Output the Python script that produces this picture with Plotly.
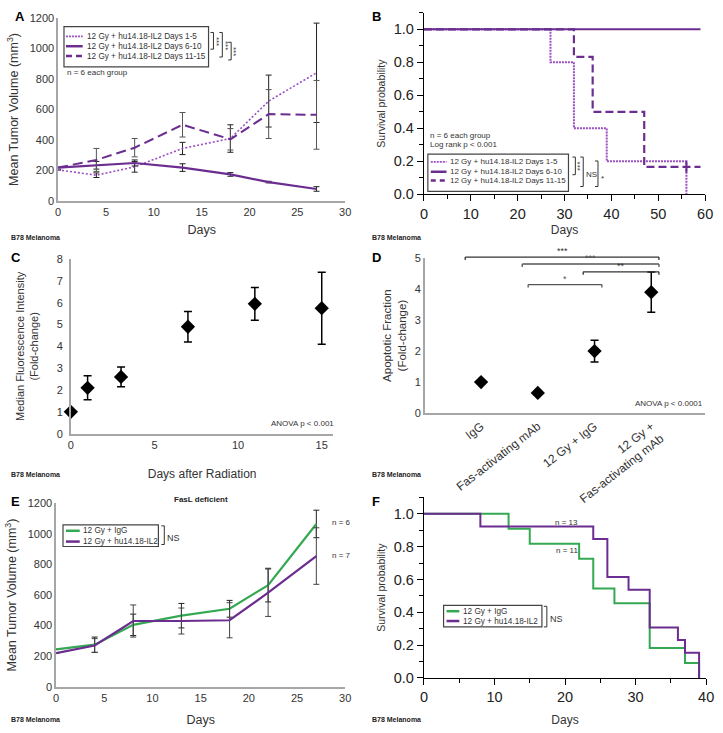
import plotly.graph_objects as go

W, H = 723, 733
def px(x): return x / W
def py(y): return 1 - y / H

# ---------------- data ----------------
days_A = [0, 4, 8, 13, 18, 22, 27]
A_d15 = [205, 170, 225, 345, 410, 655, 840]
A_d15_err = [0, 15, 35, 40, 90, 170, 325]
A_d610 = [220, 235, 250, 220, 175, 125, 80]
A_d610_err = [0, 25, 20, 25, 12, 5, 15]
A_d1115 = [220, 270, 350, 500, 405, 570, 565]
A_d1115_err = [0, 75, 60, 80, 70, 160, 225]
A_names = ["12 Gy + hu14.18-IL2 Days 1-5", "12 Gy + hu14.18-IL2 Days 6-10", "12 Gy + hu14.18-IL2 Days 11-15"]

B_d15_t = [0, 27, 32, 39, 56]
B_d15_s = [1.0, 0.8, 0.4, 0.2, 0.0]
B_d610_t = [0, 59]
B_d610_s = [1.0, 1.0]
B_d1115_t = [0, 32, 36, 47, 59]
B_d1115_s = [1.0, 0.833, 0.5, 0.167, 0.167]
B_cens_t = [56]
B_cens_s = [0.167]

C_days = [0, 1, 3, 7, 11, 15]
C_mfi = [1.0, 2.1, 2.6, 4.9, 5.95, 5.75]
C_err = [0, 0.55, 0.45, 0.7, 0.75, 1.65]

D_cats = ["IgG", "Fas-activating mAb", "12 Gy + IgG", "12 Gy +<br>Fas-activating mAb"]
D_vals = [1.0, 0.65, 2.0, 3.9]
D_err = [0.0, 0.06, 0.35, 0.65]

E_days = [0, 4, 8, 13, 18, 22, 27]
E_igg = [245, 275, 405, 465, 510, 665, 1065]
E_igg_err = [0, 50, 70, 80, 55, 110, 90]
E_il2 = [220, 270, 430, 430, 435, 615, 855]
E_il2_err = [0, 45, 105, 85, 115, 155, 185]

F_igg_t = [0, 12, 15, 22, 24, 27, 32, 37, 39]
F_igg_s = [1.0, 0.909, 0.818, 0.727, 0.545, 0.455, 0.182, 0.091, 0.0]
F_il2_t = [0, 8, 24, 26, 29, 32, 36, 37, 39]
F_il2_s = [1.0, 0.923, 0.846, 0.615, 0.538, 0.308, 0.231, 0.154, 0.0]

PUR = "#6b2d8f"
PUR_L = "#9a4fc2"
GRN = "#34a852"
GREY_AX = "#a6a6a6"
FONT = "Liberation Sans, Arial, sans-serif"

fig = go.Figure()

def eb(arr, color="#222"):
    return dict(type="data", array=arr, visible=True, color=color, thickness=1, width=3)

# ---- A ----
fig.add_trace(go.Scatter(x=days_A, y=A_d15, mode="lines", line=dict(color=PUR_L, width=1.6, dash="2px,2px"),
                         error_y=eb(A_d15_err), xaxis="x", yaxis="y", showlegend=False))
fig.add_trace(go.Scatter(x=days_A, y=A_d610, mode="lines", line=dict(color=PUR, width=2.2),
                         error_y=eb(A_d610_err), xaxis="x", yaxis="y", showlegend=False))
fig.add_trace(go.Scatter(x=days_A, y=A_d1115, mode="lines", line=dict(color=PUR, width=2, dash="10px,5px"),
                         error_y=eb(A_d1115_err, "#555"), xaxis="x", yaxis="y", showlegend=False))

# ---- B ----
fig.add_trace(go.Scatter(x=B_d15_t, y=B_d15_s, mode="lines", line=dict(color=PUR_L, width=2, dash="2px,1px", shape="hv"),
                         xaxis="x2", yaxis="y2", showlegend=False))
fig.add_trace(go.Scatter(x=B_d610_t, y=B_d610_s, mode="lines", line=dict(color=PUR, width=2, shape="hv"),
                         xaxis="x2", yaxis="y2", showlegend=False))
fig.add_trace(go.Scatter(x=B_d1115_t, y=B_d1115_s, mode="lines", line=dict(color=PUR, width=2.2, dash="8px,4px", shape="hv"),
                         xaxis="x2", yaxis="y2", showlegend=False))
fig.add_trace(go.Scatter(x=B_cens_t, y=B_cens_s, mode="markers",
                         marker=dict(symbol="line-ns", size=8, line=dict(color=PUR, width=2)),
                         xaxis="x2", yaxis="y2", showlegend=False))

# ---- C ----
fig.add_trace(go.Scatter(x=C_days, y=C_mfi, mode="markers", marker=dict(symbol="diamond", size=11, color="black"),
                         error_y=dict(type="data", array=C_err, visible=True, color="black", thickness=1.5, width=4),
                         cliponaxis=False, xaxis="x3", yaxis="y3", showlegend=False))

# ---- D ----
fig.add_trace(go.Scatter(x=list(range(len(D_cats))), y=D_vals, mode="markers",
                         marker=dict(symbol="diamond", size=11, color="black"),
                         error_y=dict(type="data", array=D_err, visible=True, color="black", thickness=1.5, width=4),
                         cliponaxis=False, xaxis="x4", yaxis="y4", showlegend=False))

# ---- E ----
fig.add_trace(go.Scatter(x=E_days, y=E_igg, mode="lines", line=dict(color=GRN, width=2.2),
                         error_y=eb(E_igg_err), xaxis="x5", yaxis="y5", showlegend=False))
fig.add_trace(go.Scatter(x=E_days, y=E_il2, mode="lines", line=dict(color=PUR, width=2.2),
                         error_y=eb(E_il2_err, "#444"), xaxis="x5", yaxis="y5", showlegend=False))

# ---- F ----
fig.add_trace(go.Scatter(x=F_igg_t, y=F_igg_s, mode="lines", line=dict(color=GRN, width=2, shape="hv"),
                         xaxis="x6", yaxis="y6", showlegend=False))
fig.add_trace(go.Scatter(x=F_il2_t, y=F_il2_s, mode="lines", line=dict(color=PUR, width=2, shape="hv"),
                         xaxis="x6", yaxis="y6", showlegend=False))

tick_small = dict(family=FONT, size=11, color="#333")
tick_big = dict(family=FONT, size=14.5, color="#222")

def tf(size):
    return dict(family=FONT, size=size, color="#333")

def excel_x(dom, rng, dtick, anchor, title, standoff=10, tsize=12.5):
    return dict(domain=dom, range=rng, dtick=dtick, tick0=0, anchor=anchor, showline=True, linecolor=GREY_AX,
                linewidth=1.5, showgrid=False, zeroline=False, ticks="", tickfont=tick_small,
                title=dict(text=title, font=tf(tsize), standoff=standoff))

def excel_y(dom, rng, dtick, anchor, title, standoff=8, tsize=12.5, lstand=0):
    return dict(domain=dom, range=rng, dtick=dtick, tick0=0, anchor=anchor, showline=True, linecolor=GREY_AX,
                linewidth=1.5, showgrid=False, zeroline=False, ticks="", tickfont=tick_small,
                ticklabelstandoff=lstand,
                title=dict(text=title, font=tf(tsize), standoff=standoff))

def km_x(dom, rng, dtick, minor, anchor, title, standoff):
    return dict(domain=dom, range=rng, dtick=dtick, tick0=0, anchor=anchor, showline=True, linecolor="black",
                linewidth=1.3, showgrid=False, zeroline=False, ticks="outside", ticklen=6, tickwidth=1.2,
                tickcolor="black", minor=dict(dtick=minor, ticks="outside", ticklen=4, tickcolor="black"),
                tickfont=tick_big, title=dict(text=title, font=tf(12), standoff=standoff))

def km_y(dom, rng, anchor, title):
    return dict(domain=dom, range=rng, dtick=0.2, tick0=0, tickformat=".1f", anchor=anchor, showline=True,
                linecolor="black", linewidth=1.3, showgrid=False, zeroline=False, ticks="outside", ticklen=6,
                tickwidth=1.2, tickcolor="black", minor=dict(dtick=0.1, ticks="outside", ticklen=4, tickcolor="black"),
                tickfont=tick_big, title=dict(text=title, font=tf(10.5), standoff=6))

layout = dict(
    width=W, height=H, margin=dict(l=0, r=0, t=0, b=0), paper_bgcolor="white", plot_bgcolor="white",
    font=dict(family=FONT, color="#333"), showlegend=False,
    xaxis=excel_x([px(55), px(347)], [0, 30], 5, "y", "Days", 8),
    yaxis=excel_y([py(199), py(12)], [0, 1200], 200, "x", "Mean Tumor Volume (mm<sup>3</sup>)"),
    xaxis2=km_x([px(427), px(713)], [0, 60], 10, 5, "y2", "Days", 4),
    yaxis2=km_y([py(192), py(7)], [0, 1.1], "x2", "Survival probability"),
    xaxis3=excel_x([px(68), px(335)], [0, 15.7], 5, "y3", "Days after Radiation", 20, 12),
    yaxis3=excel_y([py(436), py(258)], [0, 8], 1, "x3", "Median Fluorescence Intensity<br>(Fold-change)", 16, 11, 4),
    xaxis4=dict(domain=[px(428), px(713)], range=[-0.99, 3.95], anchor="y4", tickmode="array",
                tickvals=list(range(len(D_cats))), ticktext=D_cats, tickangle=-38, showline=True,
                linecolor=GREY_AX, linewidth=1.5, showgrid=False, zeroline=False, ticks="",
                tickfont=dict(family=FONT, size=12, color="#333")),
    yaxis4=excel_y([py(415), py(257)], [0, 5], 1, "x4", "Apoptotic Fraction<br>(Fold-change)", 6, 11.5),
    xaxis5=excel_x([px(53), px(347)], [0, 30], 5, "y5", "Days", 13),
    yaxis5=excel_y([py(694), py(507)], [0, 1200], 200, "x5", "Mean Tumor Volume (mm<sup>3</sup>)"),
    xaxis6=km_x([px(427), px(714)], [0, 40], 10, 5, "y6", "Days", 11),
    yaxis6=km_y([py(685), py(501)], [0, 1.1], "x6", "Survival probability"),
)
fig.update_layout(**layout)

shapes = []
annots = []

def ptext(x, y, text, size=9, bold=False, xanchor="left", color="#333", angle=0, yanchor="middle"):
    t = f"<b>{text}</b>" if bold else text
    annots.append(dict(x=px(x), y=py(y), xref="paper", yref="paper", text=t, showarrow=False,
                       xanchor=xanchor, yanchor=yanchor, textangle=angle,
                       font=dict(family=FONT, size=size, color=color)))

def rect(x0, y0, x1, y1, color="#444", w=1.2):
    shapes.append(dict(type="rect", xref="paper", yref="paper", x0=px(x0), x1=px(x1), y0=py(y0), y1=py(y1),
                       line=dict(color=color, width=w)))

def seg(x0, y0, x1, y1, color, w=2, dash="solid"):
    shapes.append(dict(type="line", xref="paper", yref="paper", x0=px(x0), x1=px(x1), y0=py(y0), y1=py(y1),
                       line=dict(color=color, width=w, dash=dash)))

def rbracket(x, y0, y1, color="#333", w=1):
    seg(x - 3, y0, x, y0, color, w)
    seg(x, y0, x, y1, color, w)
    seg(x - 3, y1, x, y1, color, w)

# panel letters
for (x, y, L) in [(9, 11, "A"), (372, 11, "B"), (5, 256, "C"), (372, 256, "D"), (5, 505, "E"), (372, 505, "F")]:
    ptext(x, y, L, size=13, bold=True, color="black")
# B78 labels
for (x, y) in [(5, 236), (372, 236), (5, 478), (372, 478), (5, 727), (372, 727)]:
    ptext(x, y, "B78 Melanoma", size=7, bold=True, color="#222")

# legend A
rect(61, 21, 208, 62)
rows = [31, 41, 51]
seg(63, rows[0], 80, rows[0], PUR_L, 1.8, "2px,1px")
seg(63, rows[1], 80, rows[1], PUR, 2.5)
seg(63, rows[2], 80, rows[2], PUR, 2.5, "6px,4px")
for r, n in zip(rows, A_names):
    ptext(82, r, n, size=8.2)
ptext(62, 68, "n = 6 each group", size=8)
rbracket(213, 27, 44)
ptext(216, 36, "***", size=8, angle=90, xanchor="center")
rbracket(222, 27, 52)
ptext(225, 40, "***", size=8, angle=90, xanchor="center")
rbracket(231, 37, 55)
ptext(234, 46, "***", size=8, angle=90, xanchor="center")

# legend B
ptext(431, 132, "n = 6 each group", size=8)
ptext(431, 141, "Log rank p < 0.001", size=8)
rect(431, 151, 574, 189)
rowsB = [159, 169, 178]
seg(434, rowsB[0], 450, rowsB[0], PUR_L, 1.8, "2px,1px")
seg(434, rowsB[1], 450, rowsB[1], PUR, 2.5)
seg(434, rowsB[2], 450, rowsB[2], PUR, 2.5, "5px,4px")
for r, n in zip(rowsB, A_names):
    ptext(452, r, n, size=8)
rbracket(581, 154, 172)
ptext(583, 163, "***", size=8, angle=90, xanchor="center")
rbracket(589, 154, 184)
ptext(590, 172, "NS", size=8)
rbracket(604, 158, 184)
ptext(605, 176, "*", size=8)

# panel C / D texts
ptext(338, 426, "ANOVA p < 0.001", size=8, xanchor="right")
ptext(713, 405, "ANOVA p < 0.0001", size=8, xanchor="right")

# D significance brackets (pixel positions)
def dbr(x0, x1, y, label, color="#333"):
    seg(x0, y, x1, y, color, 1.3)
    seg(x0, y, x0, y + 3, color, 1.3)
    seg(x1, y, x1, y + 3, color, 1.3)
    ptext((x0 + x1) / 2, y + 1, label, size=9, xanchor="center", yanchor="bottom", color=color)
dbr(469, 666, 256, "***")
dbr(527, 666, 263, "***", "#555")
dbr(589, 666, 271, "**")
dbr(533, 608, 284, "*", "#555")

# E texts & legend
ptext(200, 503, "FasL deficient", size=8, bold=True, xanchor="center", color="#222")
ptext(332, 527, "n = 6", size=8)
ptext(332, 560, "n = 7", size=8)
rect(60, 529, 157, 551)
seg(63, 535, 77, 535, GRN, 2.5)
seg(63, 546, 77, 546, PUR, 2.5)
ptext(78, 535, "12 Gy + IgG", size=8.2)
ptext(78, 546, "12 Gy + hu14.18-IL2", size=8.2)
rbracket(163, 530, 549)
ptext(164, 542, "NS", size=9)

# F texts & legend
ptext(572, 527, "n = 13", size=8, xanchor="center")
ptext(572, 555, "n = 11", size=8, xanchor="center")
rect(447, 611, 547, 633)
seg(450, 617, 463, 617, GRN, 2.5)
seg(450, 627, 463, 627, PUR, 2.5)
ptext(465, 617, "12 Gy + IgG", size=8.2)
ptext(465, 627, "12 Gy + hu14.18-IL2", size=8.2)
rbracket(552, 612, 633)
ptext(553, 625, "NS", size=9)

fig.update_layout(shapes=shapes, annotations=annots)
fig.write_html("out.html", config={"displayModeBar": False},
               post_script="document.body.style.margin='0';document.body.style.overflow='hidden';")
